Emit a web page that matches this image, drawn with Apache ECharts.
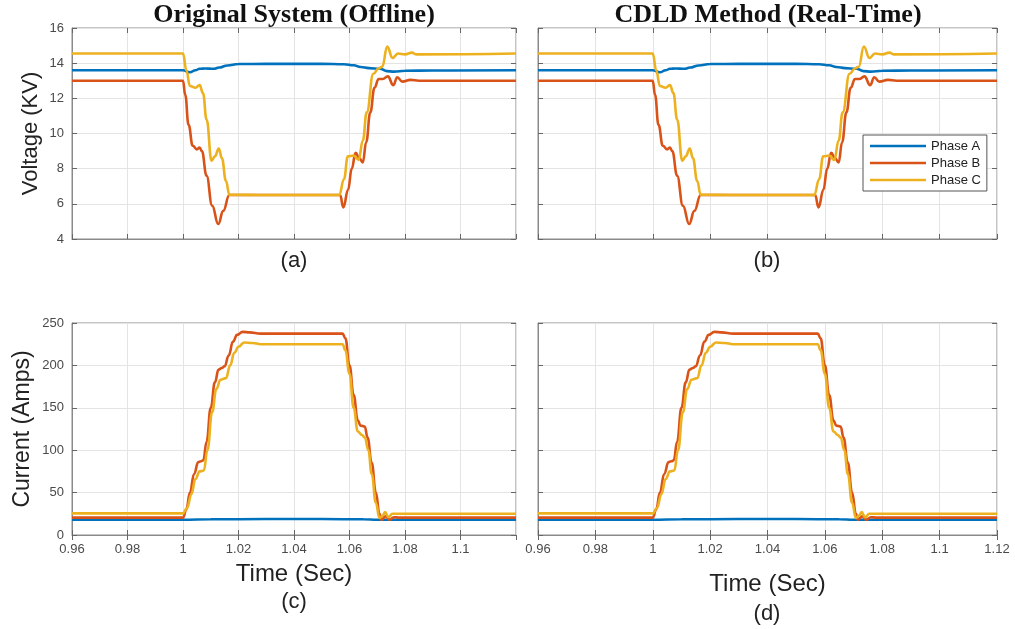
<!DOCTYPE html>
<html>
<head>
<meta charset="utf-8">
<script src="https://cdn.jsdelivr.net/npm/echarts@6/dist/echarts.min.js"></script>
<style>
  html, body { margin: 0; padding: 0; background: #fff; }
  #chart { width: 1015px; height: 629px; }
</style>
</head>
<body>
<div id="chart"></div>
<script>
// 电压 (KV)，[时间, 数值]
let voltA = [[0.96,13.6],[1.0,13.6],[1.0025,13.48],[1.0045,13.6],[1.006,13.68],[1.008,13.7],[1.011,13.68],[1.013,13.75],[1.016,13.87],[1.02,13.95],[1.03,13.96],[1.04,13.96],[1.05,13.96],[1.058,13.94],[1.0615,13.88],[1.064,13.78],[1.067,13.72],[1.071,13.68],[1.0735,13.55],[1.076,13.52],[1.08,13.57],[1.09,13.58],[1.12,13.6]];
let voltB = [[0.96,13.0],[1.0,13.0],[1.0008,12.2],[1.002,10.5],[1.0035,9.3],[1.005,9.1],[1.006,9.2],[1.0068,9.0],[1.0085,7.6],[1.0105,5.9],[1.0127,4.85],[1.0145,5.6],[1.0167,6.5],[1.03,6.5],[1.0566,6.5],[1.0578,5.8],[1.0595,6.8],[1.0608,8.0],[1.0622,8.9],[1.0635,8.6],[1.0648,8.35],[1.066,9.5],[1.0675,11.2],[1.069,12.6],[1.0705,13.1],[1.072,13.1],[1.0738,13.25],[1.0758,12.75],[1.0772,13.2],[1.079,12.95],[1.082,13.05],[1.085,13.0],[1.12,13.0]];
let voltC = [[0.96,14.55],[1.0,14.55],[1.0012,13.6],[1.0025,12.7],[1.0045,12.6],[1.006,12.75],[1.0072,12.3],[1.0085,10.8],[1.0103,8.45],[1.0115,8.7],[1.0129,9.15],[1.014,8.6],[1.0155,7.3],[1.0167,6.52],[1.03,6.5],[1.0563,6.5],[1.058,7.4],[1.0594,8.7],[1.0615,8.75],[1.0633,8.5],[1.0648,9.6],[1.0662,11.2],[1.0686,13.4],[1.0705,13.7],[1.0718,13.8],[1.0736,14.95],[1.0755,14.3],[1.0775,14.55],[1.08,14.5],[1.0825,14.6],[1.084,14.5],[1.12,14.55]];

// 电流 (Amps)
let curA = [[0.96,18],[1.0,18],[1.01,18.5],[1.03,18.8],[1.05,18.8],[1.065,18.5],[1.07,18],[1.12,18]];
let curB = [[0.96,20.5],[1.0,20.5],[1.0012,30],[1.0025,50],[1.004,72],[1.0055,86],[1.0065,87],[1.0073,88],[1.0085,110],[1.01,150],[1.0115,180],[1.0128,195],[1.014,197],[1.015,199],[1.0165,212],[1.018,228],[1.0195,236],[1.0215,239.5],[1.024,239],[1.028,237.5],[1.04,237.5],[1.0575,237.5],[1.0585,232],[1.06,200],[1.0615,165],[1.063,135],[1.064,129],[1.0655,128],[1.0665,115],[1.068,85],[1.0695,50],[1.0708,25],[1.0715,18],[1.073,22],[1.0745,18],[1.076,21],[1.078,20.5],[1.12,20.5]];
let curC = [[0.96,25.5],[1.0,25.5],[1.0015,32],[1.003,48],[1.0045,66],[1.006,75],[1.0075,76],[1.0088,100],[1.0105,145],[1.012,172],[1.0135,183],[1.0155,185],[1.017,200],[1.0185,215],[1.02,222],[1.022,227],[1.025,226.5],[1.028,225],[1.04,225],[1.0575,225],[1.0585,218],[1.06,190],[1.0615,150],[1.063,122],[1.0645,118],[1.0655,115],[1.0668,100],[1.068,72],[1.0695,38],[1.0708,20],[1.072,23],[1.0728,27],[1.074,21],[1.0755,25],[1.078,25],[1.12,25]];

let phaseNames = ["Phase A", "Phase B", "Phase C"];
let phaseColors = ["#0072BD", "#D95319", "#EDB120"];

let myChart = echarts.init(document.getElementById("chart"));

let sans = "Liberation Sans";
let grids = [
  {left: 72, top: 28, width: 444, height: 211, show: true, borderColor: "#8a8a8a", borderWidth: 1},
  {left: 538, top: 28, width: 459, height: 211, show: true, borderColor: "#8a8a8a", borderWidth: 1},
  {left: 72, top: 323, width: 444, height: 212, show: true, borderColor: "#8a8a8a", borderWidth: 1},
  {left: 538, top: 323, width: 459, height: 212, show: true, borderColor: "#8a8a8a", borderWidth: 1}
];

let xAxes = [];
let yAxes = [];
for (let i = 0; i < 4; i++) {
  let bottomRow = i >= 2;
  xAxes.push({
    type: "value", gridIndex: i, min: 0.96, max: 1.12, interval: 0.02,
    axisLine: {lineStyle: {color: "#8a8a8a"}},
    axisTick: {inside: true, length: 5, lineStyle: {color: "#666"}},
    splitLine: {lineStyle: {color: "#e4e4e4"}},
    axisLabel: {
      show: bottomRow, color: "#4a4a4a", fontSize: 13, fontFamily: sans, margin: 8,
      showMaxLabel: i == 3, showMinLabel: true,
      formatter: function (v) { return String(+v.toFixed(2)); }
    },
    name: bottomRow ? "Time (Sec)" : "", nameLocation: "middle",
    nameGap: i == 2 ? 27 : 37,
    nameTextStyle: {fontSize: 24, fontFamily: sans, color: "#222"}
  });
  // 上边框刻度
  xAxes.push({
    type: "value", gridIndex: i, position: "top", min: 0.96, max: 1.12, interval: 0.02,
    axisLine: {show: false}, axisLabel: {show: false}, splitLine: {show: false},
    axisTick: {inside: true, length: 5, lineStyle: {color: "#666"}}
  });

  let volt = i < 2;
  yAxes.push({
    type: "value", gridIndex: i,
    min: volt ? 4 : 0, max: volt ? 16 : 250, interval: volt ? 2 : 50,
    axisLine: {show: true, lineStyle: {color: "#8a8a8a"}},
    axisTick: {show: true, inside: true, length: 5, lineStyle: {color: "#666"}},
    splitLine: {lineStyle: {color: "#e4e4e4"}},
    axisLabel: {show: i % 2 == 0, color: "#4a4a4a", fontSize: 13, fontFamily: sans, margin: 8},
    name: i == 0 ? "Voltage (KV)" : (i == 2 ? "Current (Amps)" : ""),
    nameLocation: "middle", nameGap: i == 0 ? 30 : 38,
    nameTextStyle: {fontSize: i == 0 ? 22 : 23, fontFamily: sans, color: "#222"}
  });
  // 右边框刻度
  yAxes.push({
    type: "value", gridIndex: i, position: "right",
    min: volt ? 4 : 0, max: volt ? 16 : 250, interval: volt ? 2 : 50,
    axisLine: {show: false}, axisLabel: {show: false}, splitLine: {show: false},
    axisTick: {show: true, inside: true, length: 5, lineStyle: {color: "#666"}}
  });
}

let series = [];
let voltData = [voltA, voltB, voltC];
let curData = [curA, curB, curC];
for (let i = 0; i < 4; i++) {
  let sets = i < 2 ? voltData : curData;
  for (let k = 0; k < 3; k++) {
    series.push({
      name: phaseNames[k],
      type: "line",
      xAxisIndex: i * 2,
      yAxisIndex: i * 2,
      data: sets[k],
      symbol: "none",
      smooth: 0.45,
      smoothMonotone: "x",
      lineStyle: {width: 2.6, color: phaseColors[k]},
      itemStyle: {color: phaseColors[k]},
      z: 2 + k
    });
  }
}

let titleFont = {fontFamily: "Liberation Serif", fontWeight: "bold", fontSize: 26, color: "#111"};
let subFont = {fontFamily: sans, fontWeight: "normal", fontSize: 22, color: "#222"};

let option = {
  animation: false,
  backgroundColor: "#fff",
  title: [
    {text: "Original System (Offline)", left: 294, top: 2, textAlign: "center", padding: 0, textStyle: titleFont},
    {text: "CDLD Method (Real-Time)", left: 768, top: 2, textAlign: "center", padding: 0, textStyle: titleFont},
    {text: "(a)", left: 294, top: 250, textAlign: "center", padding: 0, textStyle: subFont},
    {text: "(b)", left: 767, top: 250, textAlign: "center", padding: 0, textStyle: subFont},
    {text: "(c)", left: 294, top: 591, textAlign: "center", padding: 0, textStyle: subFont},
    {text: "(d)", left: 767, top: 603, textAlign: "center", padding: 0, textStyle: subFont}
  ],
  legend: {
    data: phaseNames,
    orient: "vertical",
    left: 863, top: 135,
    padding: [4, 6, 4, 7],
    icon: "rect",
    itemWidth: 56, itemHeight: 2.5, itemGap: 3,
    backgroundColor: "#fff",
    borderColor: "#555", borderWidth: 1,
    textStyle: {fontSize: 13, lineHeight: 14, fontFamily: sans, color: "#222"}
  },
  grid: grids,
  xAxis: xAxes,
  yAxis: yAxes,
  series: series
};

myChart.setOption(option);
</script>
</body>
</html>
